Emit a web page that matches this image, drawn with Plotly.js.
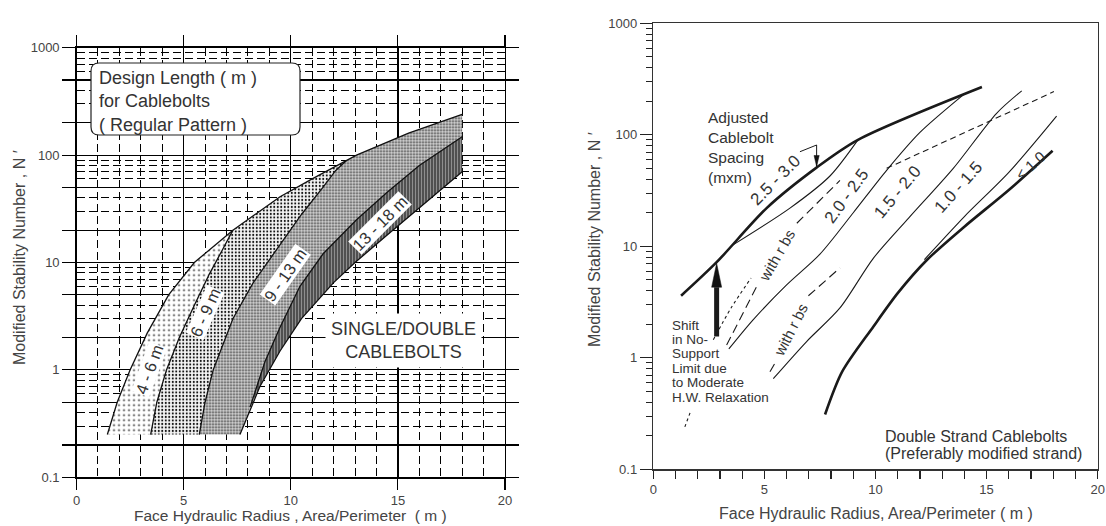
<!DOCTYPE html>
<html>
<head>
<meta charset="utf-8">
<script src="https://cdn.plot.ly/plotly-3.0.1.min.js"></script>
<style>
  html, body { margin: 0; padding: 0; background: #fff; }
  #chart { width: 1106px; height: 526px; }
</style>
</head>
<body>
<div id="chart"></div>
<script>
// ---------- Left panel: design length bands for single/double cablebolts ----------
// Boundary curves: hydraulic radius (m) vs modified stability number N'
const curveA_x = [1.44, 1.9, 2.5, 3.3, 4.3, 5.5, 7.3, 9.5, 11, 13.07, 15.5, 18];
const curveA_y = [0.25, 0.5, 1, 2.2, 5, 10, 20, 41, 60, 100, 160, 240];
const curveB_x = [3.46, 3.75, 4.2, 4.8, 5.5, 6.2, 6.8, 7.3];
const curveB_y = [0.25, 0.5, 1.0, 2.0, 4.0, 7.8, 13, 20];
const curveC_x = [5.73, 6.0, 6.38, 7.3, 8.25, 9.3, 10.5, 11.5, 12.1, 12.6];
const curveC_y = [0.25, 0.5, 1, 3, 6.5, 13, 28, 50, 72, 89];
const curveD_x = [8.1, 8.8, 9.5, 10.43, 11.5, 13.07, 14.5, 16, 18];
const curveD_y = [0.45, 1.2, 2.5, 6, 12, 25, 45, 80, 148];
const curveE_x = [7.63, 8.0, 8.56, 9.5, 10.5, 12, 13, 14.5, 16, 18];
const curveE_y = [0.25, 0.38, 0.7, 1.5, 3.0, 6.5, 10, 18, 32, 70];
const bandNames = ['4 - 6 m', '6 - 9 m', '9 - 13 m', '13 - 18 m'];

// ---------- Right panel: adjusted cablebolt spacing (double strand) ----------
const limitThick_x = [1.25, 2.85, 5.1, 7.36, 9.21, 14.79];
const limitThick_y = [3.6, 7.2, 22, 51, 90, 268];
const sp25_x = [3.59, 6.15, 7.95, 9.21];
const sp25_y = [10.3, 22, 42.7, 90];
const sp20_x = [3.4, 4.5, 6, 7.5, 9, 10.5, 12, 13.95];
const sp20_y = [1.2, 2.2, 4.5, 8.5, 20, 48, 105, 228];
const sp15_x = [5.4, 6.9, 8.4, 9.9, 11.5, 13.5, 15.45, 16.58];
const sp15_y = [0.65, 1.4, 2.8, 7.8, 18, 50, 156, 248];
const sp10_x = [12.2, 14, 16, 18.15];
const sp10_y = [7.6, 18.5, 46, 147];
const lowerThick_x = [7.73, 8.5, 9.9, 11, 12.3, 14, 16, 17.97];
const lowerThick_y = [0.31, 0.75, 1.9, 3.8, 7.5, 15, 32, 72];
const upperDash_x = [10.5, 18.03];
const upperDash_y = [50, 244];
const shiftDash_x = [1.42, 1.7, null, 2.7, 3.5, 4.4];
const shiftDash_y = [0.24, 0.34, null, 1.45, 2.8, 5.2];
const rbs1_x = [3.3, 4.65, null, 6.46, 8.4];
const rbs1_y = [1.3, 4.35, null, 16.1, 39];
const rbs2_x = [5.25, 5.55, null, 6.98, 8.4];
const rbs2_y = [0.75, 0.95, null, 3.6, 6.4];
// shift of the no-support limit (vertical arrow)
const shiftArrowX = 2.85, shiftArrowFrom = 1.55, shiftArrowTo = 7.05;
// leader from the spacing label down to the limit curve
const leader_x = [6.6, 7.35, 7.35];
const leader_y = [70.5, 81, 52];
const spacingLabels = ['2.5 - 3.0', '2.0 - 2.5', '1.5 - 2.0', '1.0 - 1.5', '< 1.0'];
const shiftText = ['Shift', 'in No-', 'Support', 'Limit due', 'to Moderate', 'H.W. Relaxation'];

// ---------- helpers ----------
const W = 1106, H = 526;
const FONT = 'Liberation Sans, Arial, sans-serif';
const px2x = px => px / W;
const py2y = py => 1 - py / H;

function pick(xs, ys, test) {
  const ox = [], oy = [];
  xs.forEach((x, i) => { if (test(x)) { ox.push(x); oy.push(ys[i]); } });
  return [ox, oy];
}
const rev = a => a.slice().reverse();

// band polygons assembled from the boundary curves
const mergeB = curveB_x[curveB_x.length - 1];
const mergeC = curveC_x[curveC_x.length - 1];
const startD = curveD_x[0];
const a1 = pick(curveA_x, curveA_y, x => x <= mergeB);
const a2 = pick(curveA_x, curveA_y, x => x > mergeB && x < mergeC);
const a3 = pick(curveA_x, curveA_y, x => x > mergeC);
const e1 = pick(curveE_x, curveE_y, x => x < startD);
const e2 = pick(curveE_x, curveE_y, x => x > startD);

const bands = [
  { x: a1[0].concat(rev(curveB_x)), y: a1[1].concat(rev(curveB_y)),
    pat: { shape: '.', bgcolor: '#ffffff', fgcolor: '#222', size: 5, solidity: 0.1 } },
  { x: curveB_x.concat(a2[0], rev(curveC_x)), y: curveB_y.concat(a2[1], rev(curveC_y)),
    pat: { shape: '.', bgcolor: '#f6f6f6', fgcolor: '#111', size: 3.5, solidity: 0.28 } },
  { x: curveC_x.concat(a3[0], rev(curveD_x), rev(e1[0])), y: curveC_y.concat(a3[1], rev(curveD_y), rev(e1[1])),
    pat: { shape: '.', bgcolor: '#d4d4d4', fgcolor: '#333', size: 3, solidity: 0.3 } },
  { x: curveD_x.concat(rev(e2[0])), y: curveD_y.concat(rev(e2[1])),
    pat: { shape: '|', bgcolor: '#a8a8a8', fgcolor: '#111', size: 3, solidity: 0.45 } }
];

const traces = [];
bands.forEach((b, i) => traces.push({
  x: b.x, y: b.y, xaxis: 'x', yaxis: 'y', type: 'scatter', mode: 'lines',
  name: bandNames[i], fill: 'toself', fillcolor: b.pat.bgcolor,
  fillpattern: Object.assign({ fillmode: 'replace' }, b.pat),
  line: { width: 0 }, hoverinfo: 'skip'
}));
[[curveA_x, curveA_y], [curveB_x, curveB_y], [curveC_x, curveC_y], [curveD_x, curveD_y], [curveE_x, curveE_y]]
  .forEach(c => traces.push({
    x: c[0], y: c[1], xaxis: 'x', yaxis: 'y', type: 'scatter', mode: 'lines',
    line: { color: '#111', width: 1.3 }, hoverinfo: 'skip'
  }));

function rline(xs, ys, width, dash, smooth) {
  traces.push({
    x: xs, y: ys, xaxis: 'x2', yaxis: 'y2', type: 'scatter', mode: 'lines',
    line: { color: '#1a1a1a', width: width, dash: dash || 'solid',
            shape: smooth ? 'spline' : 'linear', smoothing: 0.8 },
    connectgaps: false, hoverinfo: 'skip'
  });
}
rline(limitThick_x, limitThick_y, 2.6, null, true);
rline(sp25_x, sp25_y, 1.1, null, true);
rline(sp20_x, sp20_y, 1.1, null, true);
rline(sp15_x, sp15_y, 1.1, null, true);
rline(sp10_x, sp10_y, 1.1, null, true);
rline(lowerThick_x, lowerThick_y, 2.6, null, true);
rline(upperDash_x, upperDash_y, 1.1, '6px,4px');
rline(shiftDash_x, shiftDash_y, 1.1, '3px,3px', true);
rline(rbs1_x, rbs1_y, 1.1, '9px,5px');
rline(rbs2_x, rbs2_y, 1.1, '9px,5px');

// arrows on the log axis: head size given in pixels, converted per decade / per unit
const PX_DEC = 111.5, PX_UNIT = 22.22;
function arrowHead(x, tipY, lenPx, halfPx, dir) {
  const base = dir > 0 ? tipY / Math.pow(10, lenPx / PX_DEC) : tipY * Math.pow(10, lenPx / PX_DEC);
  const dx = halfPx / PX_UNIT;
  traces.push({
    x: [x - dx, x, x + dx, x - dx], y: [base, tipY, base, base], xaxis: 'x2', yaxis: 'y2',
    type: 'scatter', mode: 'lines', fill: 'toself', fillcolor: '#111',
    line: { width: 0.5, color: '#111' }, hoverinfo: 'skip'
  });
  return base;
}
const shaftTop = arrowHead(shiftArrowX, shiftArrowTo, 24, 5, 1);
rline([shiftArrowX, shiftArrowX], [shiftArrowFrom, shaftTop], 5);
rline(leader_x, leader_y, 1);
arrowHead(leader_x[2], leader_y[2], 11, 2.6, -1);

// ---------- axes ----------
function decadeVals(mults) {
  const v = [];
  [0.1, 1, 10, 100].forEach(d => mults.forEach(m => v.push(+(d * m).toPrecision(3))));
  return v;
}
const leftMajorY = decadeVals([1, 2, 5]).concat([1000]);
const leftMinorY = decadeVals([3, 4, 6, 7, 8, 9]);
const xInts = Array.from({ length: 21 }, (_, i) => i);
const tickFont = { family: FONT, size: 13, color: '#444' };

const layout = {
  width: W, height: H,
  margin: { l: 0, r: 0, t: 0, b: 0 },
  paper_bgcolor: '#fff', plot_bgcolor: '#fff',
  showlegend: false,
  xaxis: {
    domain: [px2x(76.5), px2x(505)], range: [0, 20], anchor: 'y',
    tickmode: 'array', tickvals: [0, 5, 10, 15, 20], ticks: 'outside', ticklen: 11,
    tickcolor: '#000', tickwidth: 1.2, mirror: 'allticks', showline: true, linecolor: '#000', linewidth: 1.3,
    showgrid: true, gridcolor: '#000', gridwidth: 1.3, zeroline: false, tickfont: tickFont,
    minor: { tickmode: 'array', tickvals: xInts.filter(v => v % 5 !== 0), showgrid: true,
             gridcolor: '#000', gridwidth: 1, griddash: '8px,4px', ticks: '' }
  },
  yaxis: {
    domain: [py2y(477.3), py2y(47.7)], type: 'log', range: [-1, 3], anchor: 'x',
    tickmode: 'array', tickvals: leftMajorY,
    ticktext: leftMajorY.map(v => [0.1, 1, 10, 100, 1000].includes(v) ? String(v) : ''),
    ticks: 'outside', ticklen: 13, tickcolor: '#000', tickwidth: 1.2, mirror: 'allticks',
    showline: true, linecolor: '#000', linewidth: 1.3,
    showgrid: true, gridcolor: '#000', gridwidth: 1.2, zeroline: false, tickfont: tickFont,
    minor: { tickmode: 'array', tickvals: leftMinorY, showgrid: true,
             gridcolor: '#000', gridwidth: 1, griddash: '8px,4px', ticks: '' }
  },
  xaxis2: {
    domain: [px2x(653.3), px2x(1097.7)], range: [0, 20], anchor: 'y2',
    tickmode: 'array', tickvals: xInts, ticktext: xInts.map(v => v % 5 === 0 ? String(v) : ''),
    ticks: 'outside', ticklen: 8, tickcolor: '#222', tickwidth: 1.2,
    showline: true, linecolor: '#333', linewidth: 1.5, mirror: true,
    showgrid: false, zeroline: false, tickfont: tickFont
  },
  yaxis2: {
    domain: [py2y(469.3), py2y(23.3)], type: 'log', range: [-1, 3], anchor: 'x2',
    tickmode: 'array', tickvals: [0.1, 1, 10, 100, 1000], ticktext: ['0.1', '1', '10', '100', '1000'],
    ticks: 'outside', ticklen: 12, tickcolor: '#222', tickwidth: 1.2,
    showline: true, linecolor: '#333', linewidth: 1.5, mirror: true,
    showgrid: false, zeroline: false, tickfont: tickFont,
    minor: { tickmode: 'array', tickvals: decadeVals([2, 3, 4, 5, 6, 7, 8, 9]),
             ticks: 'outside', ticklen: 6, tickcolor: '#222', tickwidth: 1, showgrid: false }
  },
  shapes: [],
  annotations: []
};

// rounded frame around the design-length legend text
(function () {
  const l = 91, t = 63, r = 300, b = 135, rad = 8;
  const X = v => px2x(v).toFixed(5), Y = v => py2y(v).toFixed(5);
  const path = `M${X(l + rad)},${Y(t)} L${X(r - rad)},${Y(t)} Q${X(r)},${Y(t)} ${X(r)},${Y(t + rad)} ` +
    `L${X(r)},${Y(b - rad)} Q${X(r)},${Y(b)} ${X(r - rad)},${Y(b)} L${X(l + rad)},${Y(b)} ` +
    `Q${X(l)},${Y(b)} ${X(l)},${Y(b - rad)} L${X(l)},${Y(t + rad)} Q${X(l)},${Y(t)} ${X(l + rad)},${Y(t)} Z`;
  layout.shapes.push({ type: 'path', path: path, xref: 'paper', yref: 'paper',
    fillcolor: '#fff', line: { color: '#222', width: 1.2 }, layer: 'above' });
})();

function note(text, px, py, o) {
  o = o || {};
  layout.annotations.push({
    text: text, x: px2x(px), y: py2y(py), xref: 'paper', yref: 'paper', showarrow: false,
    xanchor: o.xanchor || 'center', yanchor: o.yanchor || 'middle', align: o.align || 'center',
    textangle: o.angle || 0,
    font: { family: FONT, size: o.size || 14, color: o.color || '#333' },
    bgcolor: o.bg || 'rgba(0,0,0,0)', borderpad: o.pad === undefined ? 1 : o.pad
  });
}

// left panel texts
note('Design Length ( m )<br>for Cablebolts<br>( Regular Pattern )', 97, 66,
     { xanchor: 'left', yanchor: 'top', align: 'left', size: 18 });
note('SINGLE/DOUBLE<br>CABLEBOLTS', 403, 340, { size: 18, bg: '#fff', pad: 5 });
note(bandNames[0], 149, 370, { angle: -70, size: 16.5, bg: '#fff', pad: 0 });
note(bandNames[1], 205, 313, { angle: -66, size: 16.5, bg: '#fff', pad: 0 });
note(bandNames[2], 285, 275, { angle: -55, size: 16.5, bg: '#fff', pad: 0 });
note(bandNames[3], 380, 223, { angle: -45, size: 16.5, bg: '#fff', pad: 0 });
note('Face Hydraulic Radius , Area/Perimeter  ( m )', 290, 515, { size: 15.5, color: '#444' });
note('Modified Stability Number , N \u2032', 19, 258, { angle: -90, size: 16, color: '#444' });

// right panel texts
note('Adjusted<br>Cablebolt<br>Spacing<br>(mxm)', 706, 107,
     { xanchor: 'left', yanchor: 'top', align: 'left', size: 15.5 });
note(spacingLabels[0], 775, 180, { angle: -45, size: 17 });
note(spacingLabels[1], 846, 196, { angle: -54, size: 17 });
note(spacingLabels[2], 897, 192, { angle: -50, size: 17 });
note(spacingLabels[3], 958, 187, { angle: -48, size: 17 });
note(spacingLabels[4], 1030, 165, { angle: -42, size: 15 });
note('with r bs', 777, 256, { angle: -60, size: 15 });
note('with r bs', 790, 330, { angle: -63, size: 15 });
shiftText.forEach((t, i) => note(t, 670, 325 + i * 14.4, { xanchor: 'left', align: 'left', size: 13.5 }));
note('Double Strand Cablebolts', 883, 436, { xanchor: 'left', align: 'left', size: 16 });
note('(Preferably modified strand)', 883, 453, { xanchor: 'left', align: 'left', size: 16 });
note('Face Hydraulic Radius, Area/Perimeter ( m )', 876, 513, { size: 16, color: '#444' });
note('Modified Stability Number , N \u2032', 594, 240, { angle: -90, size: 16, color: '#444' });

Plotly.newPlot('chart', traces, layout, { staticPlot: true, displayModeBar: false });
</script>
</body>
</html>
